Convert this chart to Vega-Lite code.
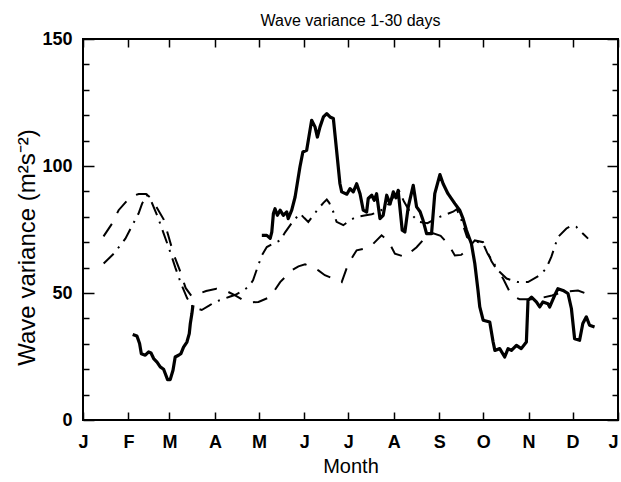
{
  "$schema": "https://vega.github.io/schema/vega-lite/v6.json",
  "width": 535,
  "height": 381,
  "autosize": {"type": "none"},
  "padding": {"left": 83, "top": 39, "right": 3, "bottom": 62},
  "background": "white",
  "config": {
    "view": {"stroke": "black", "strokeWidth": 2},
    "axis": {
      "domain": false,
      "grid": false,
      "tickColor": "black",
      "tickWidth": 1.5,
      "labelColor": "black",
      "labelFont": "Liberation Sans",
      "labelFontWeight": "bold",
      "labelFontSize": 18,
      "labelFlush": false,
      "labelOverlap": false,
      "titleFont": "Liberation Sans",
      "titleFontWeight": "normal",
      "titleColor": "black"
    }
  },
  "title": {
    "text": "Wave variance 1-30 days",
    "font": "Liberation Sans",
    "fontSize": 16,
    "fontWeight": "normal",
    "color": "black",
    "anchor": "middle",
    "offset": 1
  },
  "datasets": {
    "solid": [
      {"seg": 1, "day": 33.9, "v": 33.7}, {"seg": 1, "day": 36.8, "v": 33.1}, {"seg": 1, "day": 38.6, "v": 30.1},
      {"seg": 1, "day": 39.8, "v": 26.1}, {"seg": 1, "day": 42.5, "v": 25.5}, {"seg": 1, "day": 44.8, "v": 26.8},
      {"seg": 1, "day": 46.4, "v": 26.4}, {"seg": 1, "day": 48.2, "v": 24.2}, {"seg": 1, "day": 50.5, "v": 22.8},
      {"seg": 1, "day": 52.7, "v": 20.9}, {"seg": 1, "day": 55.0, "v": 20.0}, {"seg": 1, "day": 56.1, "v": 18.3},
      {"seg": 1, "day": 57.7, "v": 15.9}, {"seg": 1, "day": 59.5, "v": 15.9}, {"seg": 1, "day": 61.4, "v": 19.6},
      {"seg": 1, "day": 62.9, "v": 24.8}, {"seg": 1, "day": 65.2, "v": 25.5}, {"seg": 1, "day": 66.8, "v": 26.1},
      {"seg": 1, "day": 68.6, "v": 28.7}, {"seg": 1, "day": 70.9, "v": 30.7}, {"seg": 1, "day": 72.5, "v": 34.0},
      {"seg": 1, "day": 73.2, "v": 37.9}, {"seg": 1, "day": 74.3, "v": 41.9}, {"seg": 1, "day": 75.0, "v": 45.2},
      {"seg": 2, "day": 122.0, "v": 72.7}, {"seg": 2, "day": 125.4, "v": 72.7}, {"seg": 2, "day": 127.7, "v": 71.5},
      {"seg": 2, "day": 128.8, "v": 74.0}, {"seg": 2, "day": 129.9, "v": 81.3}, {"seg": 2, "day": 131.0, "v": 83.2},
      {"seg": 2, "day": 132.6, "v": 80.6}, {"seg": 2, "day": 134.5, "v": 82.6}, {"seg": 2, "day": 136.7, "v": 80.6},
      {"seg": 2, "day": 139.0, "v": 81.9}, {"seg": 2, "day": 140.0, "v": 79.3}, {"seg": 2, "day": 142.4, "v": 82.6},
      {"seg": 2, "day": 144.7, "v": 87.8}, {"seg": 2, "day": 148.0, "v": 99.6}, {"seg": 2, "day": 150.0, "v": 105.5},
      {"seg": 2, "day": 152.6, "v": 106.2}, {"seg": 2, "day": 153.7, "v": 110.0}, {"seg": 2, "day": 156.0, "v": 118.0},
      {"seg": 2, "day": 158.3, "v": 115.4}, {"seg": 2, "day": 159.9, "v": 111.4}, {"seg": 2, "day": 161.7, "v": 115.4},
      {"seg": 2, "day": 164.0, "v": 119.3}, {"seg": 2, "day": 166.3, "v": 120.6}, {"seg": 2, "day": 168.5, "v": 119.3},
      {"seg": 2, "day": 170.8, "v": 118.7}, {"seg": 2, "day": 173.0, "v": 106.2}, {"seg": 2, "day": 175.3, "v": 93.0},
      {"seg": 2, "day": 176.5, "v": 89.8}, {"seg": 2, "day": 180.0, "v": 88.9}, {"seg": 2, "day": 182.2, "v": 91.1},
      {"seg": 2, "day": 184.4, "v": 89.8}, {"seg": 2, "day": 186.7, "v": 93.0}, {"seg": 2, "day": 189.0, "v": 89.1},
      {"seg": 2, "day": 191.2, "v": 82.6}, {"seg": 2, "day": 193.5, "v": 81.9}, {"seg": 2, "day": 194.6, "v": 87.2},
      {"seg": 2, "day": 197.0, "v": 88.5}, {"seg": 2, "day": 198.7, "v": 86.5}, {"seg": 2, "day": 200.3, "v": 89.1},
      {"seg": 2, "day": 202.6, "v": 79.3}, {"seg": 2, "day": 204.8, "v": 80.6}, {"seg": 2, "day": 207.2, "v": 88.5},
      {"seg": 2, "day": 209.5, "v": 85.0}, {"seg": 2, "day": 211.7, "v": 89.8}, {"seg": 2, "day": 213.5, "v": 87.5},
      {"seg": 2, "day": 215.0, "v": 90.4}, {"seg": 2, "day": 217.8, "v": 74.7}, {"seg": 2, "day": 219.6, "v": 74.0},
      {"seg": 2, "day": 221.9, "v": 83.9}, {"seg": 2, "day": 225.3, "v": 92.4}, {"seg": 2, "day": 227.6, "v": 83.9},
      {"seg": 2, "day": 230.0, "v": 82.0}, {"seg": 2, "day": 232.0, "v": 78.6}, {"seg": 2, "day": 234.4, "v": 73.4},
      {"seg": 2, "day": 237.8, "v": 73.4}, {"seg": 2, "day": 240.0, "v": 89.1}, {"seg": 2, "day": 243.5, "v": 96.6},
      {"seg": 2, "day": 245.7, "v": 93.0}, {"seg": 2, "day": 249.0, "v": 89.1}, {"seg": 2, "day": 253.7, "v": 85.2},
      {"seg": 2, "day": 257.0, "v": 82.6}, {"seg": 2, "day": 259.3, "v": 79.3}, {"seg": 2, "day": 261.6, "v": 74.7},
      {"seg": 2, "day": 265.0, "v": 69.4}, {"seg": 2, "day": 267.3, "v": 61.6}, {"seg": 2, "day": 269.5, "v": 51.0},
      {"seg": 2, "day": 270.7, "v": 44.5}, {"seg": 2, "day": 273.0, "v": 39.3}, {"seg": 2, "day": 277.5, "v": 38.6},
      {"seg": 2, "day": 279.8, "v": 30.7}, {"seg": 2, "day": 281.0, "v": 27.4}, {"seg": 2, "day": 284.3, "v": 28.1},
      {"seg": 2, "day": 287.7, "v": 24.8}, {"seg": 2, "day": 290.0, "v": 28.1}, {"seg": 2, "day": 292.3, "v": 27.4},
      {"seg": 2, "day": 295.7, "v": 29.4}, {"seg": 2, "day": 299.0, "v": 28.1}, {"seg": 2, "day": 302.5, "v": 30.7},
      {"seg": 2, "day": 303.6, "v": 47.1}, {"seg": 2, "day": 306.0, "v": 48.4}, {"seg": 2, "day": 309.3, "v": 46.5},
      {"seg": 2, "day": 311.6, "v": 44.5}, {"seg": 2, "day": 313.8, "v": 46.5}, {"seg": 2, "day": 317.2, "v": 45.8},
      {"seg": 2, "day": 318.4, "v": 44.5}, {"seg": 2, "day": 321.8, "v": 49.1}, {"seg": 2, "day": 324.0, "v": 51.7},
      {"seg": 2, "day": 327.5, "v": 51.0}, {"seg": 2, "day": 330.9, "v": 49.8}, {"seg": 2, "day": 333.2, "v": 43.9},
      {"seg": 2, "day": 335.4, "v": 32.0}, {"seg": 2, "day": 338.8, "v": 31.4}, {"seg": 2, "day": 341.0, "v": 38.0},
      {"seg": 2, "day": 343.4, "v": 40.6}, {"seg": 2, "day": 345.6, "v": 37.3}, {"seg": 2, "day": 349.0, "v": 36.6}
    ],
    "dashed": [
      {"day": 14.0, "v": 72.3}, {"day": 19.8, "v": 77.3}, {"day": 24.3, "v": 82.6}, {"day": 32.3, "v": 87.8},
      {"day": 38.0, "v": 89.0}, {"day": 43.0, "v": 89.0}, {"day": 47.0, "v": 87.0}, {"day": 51.0, "v": 83.0},
      {"day": 55.0, "v": 79.0}, {"day": 58.0, "v": 73.0}, {"day": 62.0, "v": 65.0}, {"day": 66.0, "v": 59.0},
      {"day": 70.0, "v": 52.0}, {"day": 74.0, "v": 48.8}, {"day": 78.0, "v": 49.5}, {"day": 84.0, "v": 50.8},
      {"day": 91.0, "v": 51.7}, {"day": 97.0, "v": 51.0}, {"day": 103.8, "v": 49.1}, {"day": 109.5, "v": 47.1},
      {"day": 115.0, "v": 46.3}, {"day": 119.7, "v": 46.5}, {"day": 127.7, "v": 48.4}, {"day": 134.5, "v": 54.3},
      {"day": 142.4, "v": 58.9}, {"day": 147.0, "v": 60.5}, {"day": 151.5, "v": 61.3}, {"day": 156.0, "v": 60.3},
      {"day": 160.6, "v": 58.9}, {"day": 165.0, "v": 57.0}, {"day": 170.8, "v": 55.7}, {"day": 176.5, "v": 54.3},
      {"day": 181.0, "v": 61.6}, {"day": 186.7, "v": 66.8}, {"day": 192.0, "v": 67.5}, {"day": 197.0, "v": 68.8},
      {"day": 203.7, "v": 72.7}, {"day": 208.0, "v": 70.7}, {"day": 212.8, "v": 65.5}, {"day": 219.6, "v": 64.2},
      {"day": 227.6, "v": 68.0}, {"day": 233.0, "v": 71.5}, {"day": 239.0, "v": 73.5}, {"day": 244.0, "v": 72.5},
      {"day": 249.0, "v": 69.4}, {"day": 253.7, "v": 64.8}, {"day": 258.0, "v": 65.0}, {"day": 261.6, "v": 66.8},
      {"day": 267.3, "v": 70.7}, {"day": 273.0, "v": 70.0}, {"day": 278.7, "v": 62.5}, {"day": 283.0, "v": 58.5},
      {"day": 286.6, "v": 55.7}, {"day": 292.3, "v": 49.1}, {"day": 298.0, "v": 47.5}, {"day": 305.0, "v": 47.5},
      {"day": 312.0, "v": 48.0}, {"day": 320.0, "v": 49.0}, {"day": 328.0, "v": 50.5}, {"day": 337.7, "v": 51.0},
      {"day": 344.5, "v": 49.5}
    ],
    "dashdot": [
      {"day": 14.1, "v": 61.6}, {"day": 21.0, "v": 65.5}, {"day": 25.5, "v": 68.8}, {"day": 28.9, "v": 71.4},
      {"day": 33.5, "v": 76.5}, {"day": 37.9, "v": 81.3}, {"day": 40.3, "v": 85.2}, {"day": 43.7, "v": 88.5},
      {"day": 47.0, "v": 85.5}, {"day": 51.0, "v": 80.0}, {"day": 55.0, "v": 73.5}, {"day": 59.0, "v": 67.0},
      {"day": 63.0, "v": 60.0}, {"day": 67.0, "v": 53.5}, {"day": 71.0, "v": 48.0}, {"day": 75.0, "v": 44.5},
      {"day": 81.0, "v": 43.3}, {"day": 86.0, "v": 45.0}, {"day": 90.0, "v": 46.5}, {"day": 95.0, "v": 47.5},
      {"day": 100.0, "v": 48.5}, {"day": 104.0, "v": 49.3}, {"day": 108.0, "v": 50.5}, {"day": 112.9, "v": 52.4},
      {"day": 116.0, "v": 55.0}, {"day": 119.0, "v": 60.0}, {"day": 122.0, "v": 64.8}, {"day": 125.4, "v": 68.1},
      {"day": 130.0, "v": 69.5}, {"day": 134.5, "v": 70.7}, {"day": 138.0, "v": 74.0}, {"day": 143.0, "v": 78.0},
      {"day": 148.0, "v": 81.3}, {"day": 151.0, "v": 79.5}, {"day": 153.7, "v": 78.0}, {"day": 157.0, "v": 80.5},
      {"day": 160.6, "v": 83.2}, {"day": 164.0, "v": 85.5}, {"day": 166.3, "v": 86.8}, {"day": 168.0, "v": 85.5},
      {"day": 170.8, "v": 81.9}, {"day": 173.0, "v": 78.0}, {"day": 177.6, "v": 76.7}, {"day": 182.0, "v": 78.6},
      {"day": 186.7, "v": 80.0}, {"day": 192.0, "v": 80.5}, {"day": 197.0, "v": 81.0}, {"day": 202.0, "v": 82.0},
      {"day": 207.0, "v": 84.0}, {"day": 211.0, "v": 87.0}, {"day": 215.0, "v": 91.0}, {"day": 219.0, "v": 86.0},
      {"day": 224.0, "v": 81.0}, {"day": 229.0, "v": 78.0}, {"day": 235.0, "v": 77.5}, {"day": 240.0, "v": 79.0},
      {"day": 243.5, "v": 80.0}, {"day": 248.0, "v": 81.0}, {"day": 252.5, "v": 82.0}, {"day": 255.0, "v": 83.0},
      {"day": 258.0, "v": 79.0}, {"day": 262.0, "v": 72.0}, {"day": 266.0, "v": 70.5}, {"day": 270.0, "v": 70.0},
      {"day": 273.0, "v": 69.5}, {"day": 276.0, "v": 65.5}, {"day": 279.8, "v": 62.2}, {"day": 283.0, "v": 59.0},
      {"day": 289.0, "v": 55.7}, {"day": 296.6, "v": 54.3}, {"day": 303.6, "v": 54.3}, {"day": 311.6, "v": 57.0},
      {"day": 316.0, "v": 59.6}, {"day": 319.5, "v": 64.2}, {"day": 324.0, "v": 72.0}, {"day": 329.8, "v": 75.4},
      {"day": 333.0, "v": 76.5}, {"day": 336.6, "v": 76.0}, {"day": 341.0, "v": 73.4}, {"day": 344.6, "v": 71.4}
    ]
  },
  "resolve": {"axis": {"x": "independent", "y": "independent"}},
  "layer": [
    {
      "data": {"name": "solid"},
      "mark": {"type": "line", "color": "black", "strokeWidth": 3.2, "strokeJoin": "round"},
      "encoding": {
        "x": {
          "field": "day", "type": "quantitative",
          "scale": {"domain": [0, 365], "nice": false, "zero": false},
          "axis": {
            "orient": "bottom",
            "values": [0, 31, 59, 90, 120, 151, 181, 212, 243, 273, 304, 334, 365],
            "labelExpr": "['J','F','M','A','M','J','J','A','S','O','N','D','J'][indexof([0,31,59,90,120,151,181,212,243,273,304,334,365], datum.value)]",
            "labelAlign": {"condition": {"test": "datum.value === 365", "value": "right"}, "value": "center"},
            "tickSize": -8,
            "labelPadding": 21,
            "title": "Month",
            "titleFontSize": 20,
            "titlePadding": 5
          }
        },
        "y": {
          "field": "v", "type": "quantitative",
          "scale": {"domain": [0, 150], "nice": false, "zero": true},
          "axis": {
            "orient": "left",
            "values": [0, 10, 20, 30, 40, 50, 60, 70, 80, 90, 100, 110, 120, 130, 140, 150],
            "labelExpr": "datum.value % 50 === 0 ? datum.label : ''",
            "tickSize": {"condition": {"test": "datum.value % 50 === 0", "value": -11}, "value": -6},
            "labelPadding": 22,
            "title": "Wave variance (m²s⁻²)",
            "titleFontSize": 24,
            "titleX": -56,
            "titleY": 208,
            "titleAlign": "center",
            "titleBaseline": "middle"
          }
        },
        "detail": {"field": "seg", "type": "nominal"}
      }
    },
    {
      "data": {"name": "dashed"},
      "mark": {"type": "line", "color": "black", "strokeWidth": 2, "strokeDash": [15, 12]},
      "encoding": {
        "x": {
          "field": "day", "type": "quantitative",
          "axis": {
            "orient": "top",
            "values": [0, 31, 59, 90, 120, 151, 181, 212, 243, 273, 304, 334, 365],
            "labels": false,
            "tickSize": -8,
            "title": null
          }
        },
        "y": {
          "field": "v", "type": "quantitative",
          "axis": {
            "orient": "right",
            "values": [0, 10, 20, 30, 40, 50, 60, 70, 80, 90, 100, 110, 120, 130, 140, 150],
            "labels": false,
            "tickSize": {"condition": {"test": "datum.value % 50 === 0", "value": -11}, "value": -6},
            "title": null
          }
        }
      }
    },
    {
      "data": {"name": "dashdot"},
      "mark": {"type": "line", "color": "black", "strokeWidth": 2, "strokeDash": [14, 7, 2, 7]},
      "encoding": {
        "x": {"field": "day", "type": "quantitative", "axis": null},
        "y": {"field": "v", "type": "quantitative", "axis": null}
      }
    }
  ]
}
